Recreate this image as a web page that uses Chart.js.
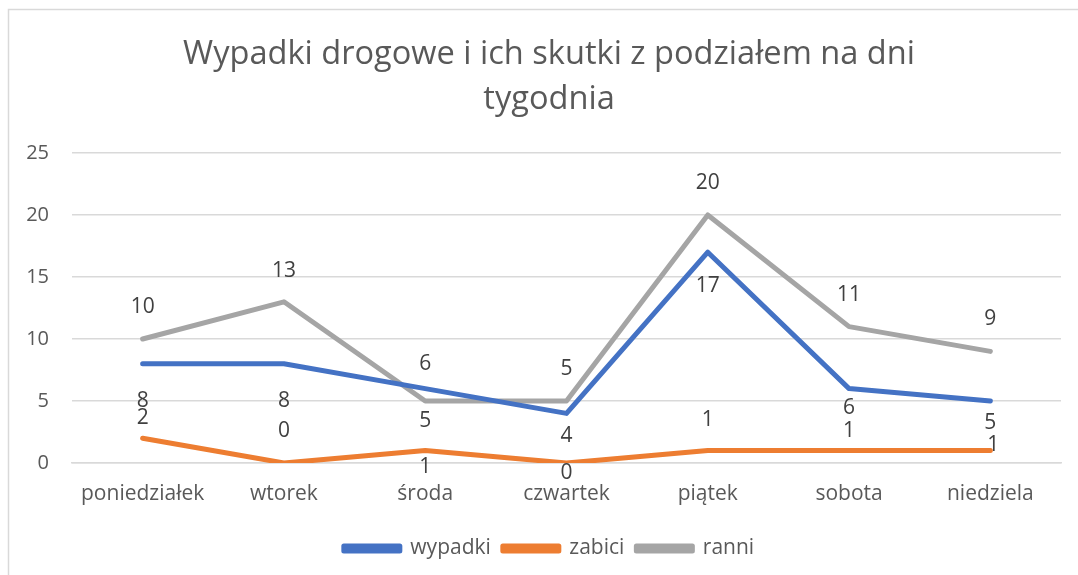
<!DOCTYPE html>
<html>
<head>
<meta charset="utf-8">
<script src="https://cdn.jsdelivr.net/npm/chart.js@4.4.1/dist/chart.umd.min.js"></script>
<style>
  html, body { margin: 0; padding: 0; background: #fff; }
  #wrap { width: 1078px; height: 575px; position: relative; }
</style>
</head>
<body>
<div id="wrap"><canvas id="chart" width="1078" height="575"></canvas></div>
<script>
const days = ["poniedziałek", "wtorek", "środa", "czwartek", "piątek", "sobota", "niedziela"];
const wypadki = [8, 8, 6, 4, 17, 6, 5];
const zabici = [2, 0, 1, 0, 1, 1, 1];
const ranni = [10, 13, 5, 5, 20, 11, 9];
const yTicks = [0, 5, 10, 15, 20, 25];

// where each value label sits relative to its point (px)
const labelShift = {
  wypadki: [[0, 37], [0, 37], [0, -25], [0, 23], [0, 34], [0, 19], [0, 22]],
  zabici: [[0, -20], [0, -32], [0, 16], [0, 10], [0, -31], [0, -20], [3, -6]],
  ranni: [[0, -32], [0, -31], [0, 20], [0, -32], [0, -32], [0, -32], [0, -32]]
};

const FONT = "'Open Sans', 'Noto Sans', sans-serif";

const frame = {
  id: "frame",
  beforeDraw(chart) {
    const c = chart.ctx;
    c.save();
    c.fillStyle = "#fff";
    c.fillRect(0, 0, chart.width, chart.height);
    c.strokeStyle = "#d9d9d9";
    c.lineWidth = 1.5;
    c.strokeRect(8.5, 9.5, chart.width + 10, chart.height + 10);
    c.restore();
  }
};

const valueLabels = {
  id: "valueLabels",
  afterDatasetsDraw(chart) {
    const c = chart.ctx;
    c.save();
    c.font = "21px " + FONT;
    c.fillStyle = "#404040";
    c.textAlign = "center";
    c.textBaseline = "middle";
    chart.data.datasets.forEach((ds, i) => {
      const meta = chart.getDatasetMeta(i);
      const shifts = labelShift[ds.label];
      meta.data.forEach((pt, j) => {
        const s = shifts[j];
        c.fillText(String(ds.data[j]), pt.x + s[0], pt.y + s[1]);
      });
    });
    c.restore();
  }
};

const ctx = document.getElementById("chart").getContext("2d");
new Chart(ctx, {
  type: "line",
  data: {
    labels: days,
    datasets: [
      { label: "wypadki", data: wypadki, borderColor: "#4472c4", backgroundColor: "#4472c4" },
      { label: "zabici", data: zabici, borderColor: "#ed7d31", backgroundColor: "#ed7d31" },
      { label: "ranni", data: ranni, borderColor: "#a5a5a5", backgroundColor: "#a5a5a5" }
    ]
  },
  options: {
    responsive: false,
    animation: false,
    layout: { padding: { left: 20, right: 0, top: 0, bottom: 6 } },
    elements: {
      line: { borderWidth: 5, tension: 0, borderCapStyle: "round", borderJoinStyle: "round" },
      point: { radius: 0, hoverRadius: 0 }
    },
    plugins: {
      title: {
        display: true,
        text: ["Wypadki drogowe i ich skutki z podziałem na dni", "tygodnia"],
        color: "#595959",
        font: { family: FONT, size: 32.6, weight: "normal", lineHeight: 45 / 32.6 },
        padding: { top: 32.5, bottom: 30.5 }
      },
      legend: {
        position: "bottom",
        labels: {
          color: "#595959",
          font: { family: FONT, size: 21 },
          boxWidth: 56,
          boxHeight: 5,
          padding: 12
        }
      },
      tooltip: { enabled: false }
    },
    scales: {
      x: {
        offset: true,
        grid: { display: false },
        border: { color: "#d9d9d9", width: 1.5 },
        ticks: { color: "#595959", font: { family: FONT, size: 21 }, padding: 10, maxRotation: 0, autoSkip: false },
        afterFit(scale) { scale.height = 63; }
      },
      y: {
        min: 0,
        max: 25,
        afterBuildTicks(scale) { scale.ticks = yTicks.map(v => ({ value: v })); },
        grid: { color: "#d9d9d9", lineWidth: 1.5, drawTicks: false },
        border: { display: false },
        ticks: { color: "#595959", font: { family: FONT, size: 20 }, padding: 23 },
        afterFit(scale) { scale.width = 52; }
      },
      gap: {
        type: "linear",
        position: "right",
        display: true,
        grid: { display: false },
        border: { display: false },
        ticks: { display: false },
        afterFit(scale) { scale.width = 17; }
      }
    }
  },
  plugins: [frame, valueLabels]
});
</script>
</body>
</html>
